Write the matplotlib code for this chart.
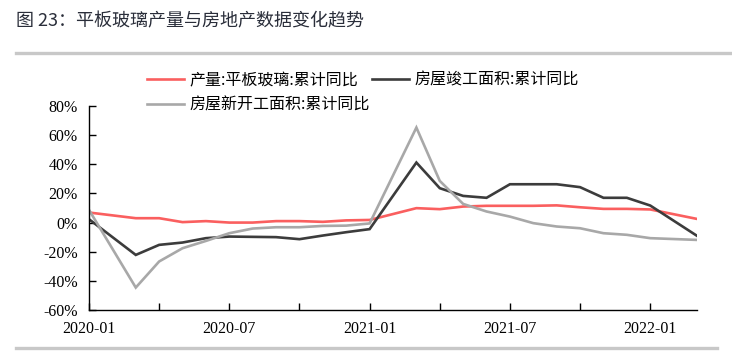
import matplotlib
matplotlib.use('Agg')
import matplotlib.pyplot as plt
from matplotlib.lines import Line2D
from matplotlib.ticker import FixedLocator, FuncFormatter

# Data (cumulative YoY, %), Feb values are merged into Jan-Feb so they are missing
months = ['2020-01', '2020-03', '2020-04', '2020-05', '2020-06', '2020-07', '2020-08',
          '2020-09', '2020-10', '2020-11', '2020-12', '2021-01', '2021-03', '2021-04',
          '2021-05', '2021-06', '2021-07', '2021-08', '2021-09', '2021-10', '2021-11',
          '2021-12', '2022-01', '2022-03']
glass_output = [6.9, 3.0, 3.0, 0.3, 1.0, 0.0, 0.0, 1.0, 1.0, 0.5, 1.5, 1.8, 9.9, 9.2,
                11.0, 11.5, 11.5, 11.5, 11.8, 10.5, 9.4, 9.4, 9.0, 2.5]
completed_area = [2.3, -22.2, -15.3, -13.7, -10.7, -9.6, -9.8, -10.0, -11.4, -8.9, -6.6,
                  -4.5, 41.2, 23.6, 18.3, 17.0, 26.3, 26.3, 26.3, 24.3, 17.0, 17.0, 11.7, -9.1]
new_start_area = [8.7, -44.6, -26.7, -17.6, -12.6, -7.3, -4.1, -3.2, -3.2, -2.3, -2.1,
                  -0.6, 65.2, 28.6, 12.8, 7.6, 4.1, -0.4, -2.7, -3.9, -7.3, -8.4, -10.7, -11.9]
tick_labels = ['2020-01', '2020-07', '2021-01', '2021-07', '2022-01']

series_names = ['产量:平板玻璃:累计同比', '房屋竣工面积:累计同比', '房屋新开工面积:累计同比']
colors = ['#fa5f5f', '#3c3c3c', '#a8a8a8']

CJK = ['Noto Sans CJK SC', 'DejaVu Sans']
SERIF = ['Liberation Serif', 'DejaVu Serif']


def month_index(s):
    y, m = s.split('-')
    return (int(y) - 2020) * 12 + int(m) - 1


x = [month_index(m) for m in months]

W, H = 732, 356
fig = plt.figure(figsize=(W / 100, H / 100), dpi=100)

# title and separator lines
fig.text(16 / W, 1 - 21 / H, '图 23：平板玻璃产量与房地产数据变化趋势', family=CJK,
         fontsize=13, color='#2a2e3a', ha='left', va='center')
fig.add_artist(Line2D([16 / W, 1.0], [1 - 53 / H] * 2, color='#c8c8c8', lw=2.4))
fig.add_artist(Line2D([16 / W, 717 / W], [1 - 348 / H] * 2, color='#c8c8c8', lw=2.4))

ax = fig.add_axes([89 / W, 1 - 310 / H, (697 - 89) / W, (310 - 106) / H])

lines = []
for vals, c, name in zip([glass_output, completed_area, new_start_area], colors, series_names):
    ln, = ax.plot(x, vals, color=c, lw=1.9, label=name, solid_joinstyle='miter')
    lines.append(ln)

ax.set_xlim(0, 26)
ax.set_ylim(-60, 80)
ax.set_yticks(range(-60, 81, 20))
ax.yaxis.set_major_formatter(FuncFormatter(lambda v, p: f'{v:.0f}%'))
ax.set_xticks([month_index(t) for t in tick_labels])
ax.set_xticklabels(tick_labels)
ax.xaxis.set_minor_locator(FixedLocator([3, 9, 15, 21]))

for s in ['top', 'right']:
    ax.spines[s].set_visible(False)
for s in ['left', 'bottom']:
    ax.spines[s].set_linewidth(1.0)
    ax.spines[s].set_color('black')

ax.tick_params(axis='both', which='both', direction='in', length=5, width=1.0,
               colors='black', labelsize=11.5, pad=8)
for lab in ax.get_xticklabels() + ax.get_yticklabels():
    lab.set_family(SERIF)

# legend: red & gray in first column, black in second
leg = fig.legend([lines[0], lines[2], lines[1]],
                 [series_names[0], series_names[2], series_names[1]],
                 ncol=2, loc='upper left', bbox_to_anchor=(147 / W, 1 - 72 / H),
                 frameon=False, borderpad=0, borderaxespad=0, handlelength=2.3,
                 handletextpad=0.35, columnspacing=0.15, labelspacing=0.5,
                 prop={'family': CJK, 'size': 11.5})

fig.savefig('out.png', dpi=100)
